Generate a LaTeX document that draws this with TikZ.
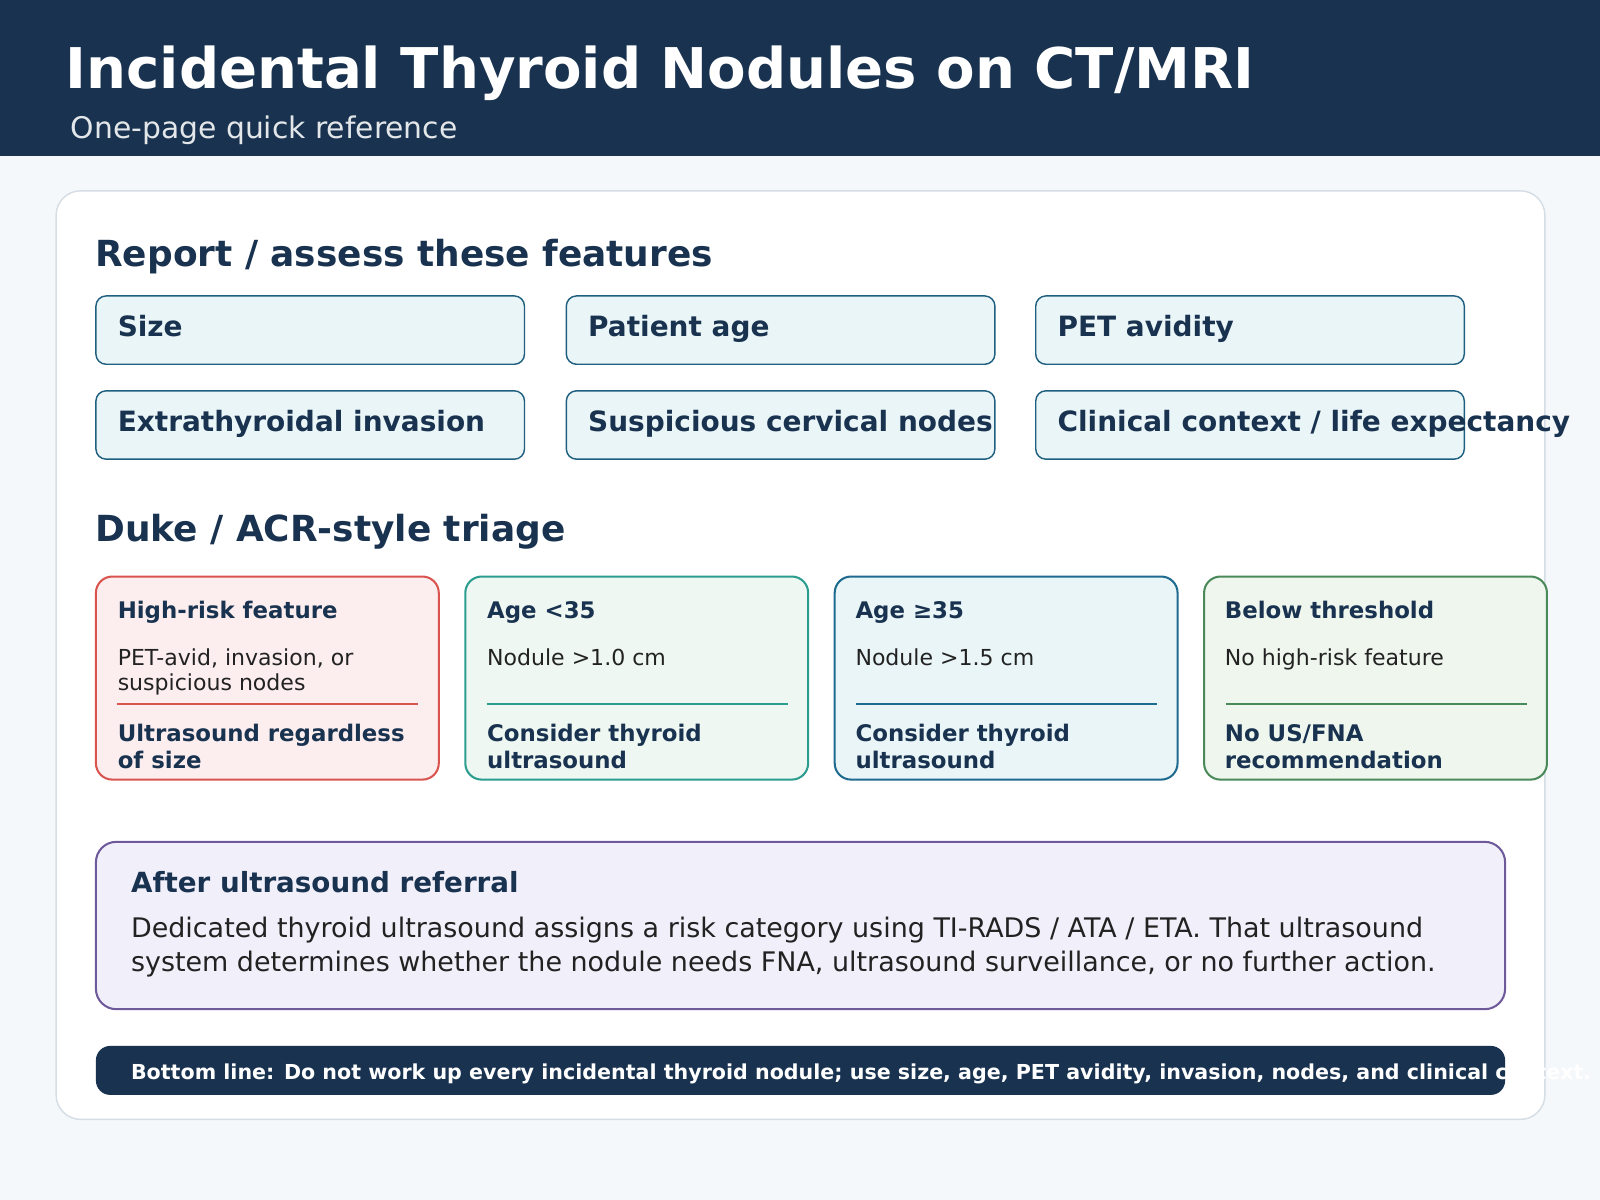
\documentclass[tikz,border=0pt]{standalone}
\usepackage{fontspec}
\setmainfont{DejaVu Sans}
\definecolor{navy}{HTML}{18324F}
\definecolor{bgc}{HTML}{F5F8FB}
\definecolor{cardb}{HTML}{D5DDE5}
\definecolor{featf}{HTML}{EAF5F7}
\definecolor{featb}{HTML}{1F5F7F}
\definecolor{redb}{HTML}{D9534F}\definecolor{redf}{HTML}{FCEEEE}
\definecolor{tealb}{HTML}{2A9D8F}\definecolor{tealf}{HTML}{EEF7F1}
\definecolor{blueb}{HTML}{1F6A8F}\definecolor{bluef}{HTML}{EAF5F7}
\definecolor{grnb}{HTML}{4A8A5A}\definecolor{grnf}{HTML}{EEF6EE}
\definecolor{purb}{HTML}{6E5A9A}\definecolor{purf}{HTML}{F1EFF9}
\definecolor{txt}{HTML}{222222}
\begin{document}
\begin{tikzpicture}[x=0.5pt,y=-0.5pt,
 feat/.style={draw=featb,fill=featf,line width=0.7pt,rounded corners=5pt},
 featt/.style={anchor=west,text=navy,font=\fontsize{13.7}{16}\selectfont\bfseries,inner sep=0},
 sec/.style={anchor=west,text=navy,font=\fontsize{17.6}{21}\selectfont\bfseries,inner sep=0},
 ctitle/.style={anchor=base west,text=navy,font=\fontsize{11.2}{13}\selectfont\bfseries,inner sep=0},
 cbody/.style={anchor=base west,text=txt,font=\fontsize{10.8}{13}\selectfont,inner sep=0},
 cbot/.style={anchor=base west,text=navy,font=\fontsize{11.2}{13}\selectfont\bfseries,inner sep=0},
 pbody/.style={anchor=base west,text=txt,font=\fontsize{13.2}{16}\selectfont,inner sep=0}]
\useasboundingbox (0,0) rectangle (1568,1176);
\clip (0,0) rectangle (1568,1176);
\fill[bgc] (0,0) rectangle (1568,1176);
\fill[navy] (0,0) rectangle (1568,153);
\node[anchor=base west,text=white,font=\fontsize{27.5}{32}\selectfont\bfseries,inner sep=0] (title) at (64,87) {Incidental Thyroid Nodules on CT/MRI};
\node[anchor=base west,text=white!88!navy,font=\fontsize{14.6}{17}\selectfont,inner sep=0] (sub) at (69,136) {One-page quick reference};
\draw[cardb,fill=white,line width=0.7pt,rounded corners=12pt] (55,187) rectangle (1514,1097);
\node[sec] (s1) at (93,251) {Report / assess these features};
\foreach \x/\y/\t/\n in {94/290/{Size}/f1,555/290/{Patient age}/f2,1015/290/{PET avidity}/f3,94/383/{Extrathyroidal invasion}/f4,555/383/{Suspicious cervical nodes}/f5,1015/383/{Clinical context / life expectancy}/f6}{
 \draw[feat] (\x,\y) rectangle ++(420,67);
 \node[featt] (\n) at (\x+21,\y+33.5) {\t\strut};
}
\node[sec] (s2) at (93,521) {Duke / ACR-style triage};
\foreach \x/\b/\f/\n in {94/redb/redf/c1,456/tealb/tealf/c2,818/blueb/bluef/c3,1180/grnb/grnf/c4}{
 \draw[draw=\b,fill=\f,line width=1pt,rounded corners=8pt] (\x,565) rectangle ++(336,199);
 \draw[\b,line width=0.7pt] (\x+21,690) -- (\x+316,690);
}
\node[ctitle] (t1) at (115,606) {High-risk feature};
\node[cbody] (b1) at (115,652) {PET-avid, invasion, or};
\node[cbody] (b1b) at (115,677) {suspicious nodes};
\node[cbot] (r1) at (115,727) {Ultrasound regardless};
\node[cbot] (r1b) at (115,753) {of size};
\node[ctitle] (t2) at (477,606) {Age <35};
\node[cbody] (b2) at (477,652) {Nodule >1.0 cm};
\node[cbot] (r2) at (477,727) {Consider thyroid};
\node[cbot] (r2b) at (477,753) {ultrasound};
\node[ctitle] (t3) at (838,606) {Age ≥35};
\node[cbody] (b3) at (838,652) {Nodule >1.5 cm};
\node[cbot] (r3) at (838,727) {Consider thyroid};
\node[cbot] (r3b) at (838,753) {ultrasound};
\node[ctitle] (t4) at (1200,606) {Below threshold};
\node[cbody] (b4) at (1200,652) {No high-risk feature};
\node[cbot] (r4) at (1200,727) {No US/FNA};
\node[cbot] (r4b) at (1200,753) {recommendation};
\draw[draw=purb,fill=purf,line width=1pt,rounded corners=10pt] (94,825) rectangle (1475,989);
\node[anchor=base west,text=navy,font=\fontsize{13.6}{16}\selectfont\bfseries,inner sep=0] (pt) at (128,875) {After ultrasound referral};
\node[pbody] (pb) at (128,919) {Dedicated thyroid ultrasound assigns a risk category using TI-RADS / ATA / ETA. That ultrasound};
\node[pbody] (pb2) at (128,952) {system determines whether the nodule needs FNA, ultrasound surveillance, or no further action.};
\fill[navy,rounded corners=7pt] (94,1025) rectangle (1475,1073);
\node[anchor=base west,text=white,font=\fontsize{10.1}{12}\selectfont\bfseries,inner sep=0] (bl) at (128,1058) {Bottom line: Do not work up every incidental thyroid nodule; use size, age, PET avidity, invasion, nodes, and clinical context.};
\end{tikzpicture}
\end{document}
